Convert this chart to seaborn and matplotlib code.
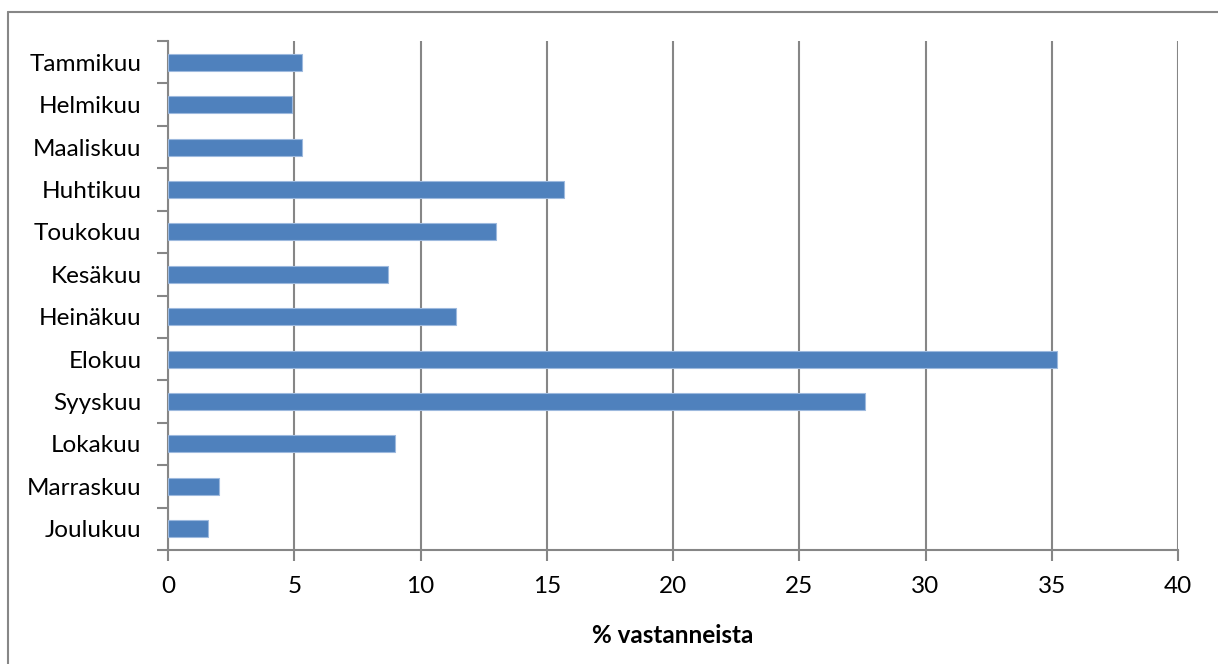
import matplotlib
matplotlib.use("Agg")
import matplotlib.pyplot as plt
from matplotlib.lines import Line2D
import seaborn as sns
import pandas as pd
import numpy as np

months = ["Tammikuu", "Helmikuu", "Maaliskuu", "Huhtikuu", "Toukokuu", "Kesäkuu",
          "Heinäkuu", "Elokuu", "Syyskuu", "Lokakuu", "Marraskuu", "Joulukuu"]
values = [5.3, 4.9, 5.3, 15.7, 13.0, 8.7, 11.4, 35.2, 27.6, 9.0, 2.0, 1.6]
xticks = [0, 5, 10, 15, 20, 25, 30, 35, 40]
xlabel = "% vastanneista"

sns.set_theme(style="white")
plt.rcParams['font.family'] = ['Lato', 'DejaVu Sans']

df = pd.DataFrame({"month": months, "value": values})

fig = plt.figure(figsize=(12.18, 6.64), dpi=100)
ax = fig.add_axes([168/1218, 1 - 550/664, (1178-168)/1218, (550-41)/664])

sns.barplot(data=df, x="value", y="month", order=months, orient="h",
            color="#4F81BD", saturation=1, width=0.4, ax=ax,
            edgecolor="#9DB9DE", linewidth=0.8, zorder=3)

FS = 17.5
ax.set_xlim(0, 40)
ax.set_ylim(len(months) - 0.5, -0.5)
ax.set_xticks(xticks)
ax.set_xticklabels([str(t) for t in xticks], fontsize=FS, color="black")
ax.set_yticks(range(len(months)))
ax.set_yticklabels(months, fontsize=FS, color="black")
ax.set_yticks(np.arange(-0.5, len(months), 1.0), minor=True)
ax.tick_params(axis="y", which="both", left=True)
ax.tick_params(axis="x", which="major", bottom=True)
ax.tick_params(axis="y", which="major", length=0, pad=19)
ax.tick_params(axis="y", which="minor", length=8, width=1.5, color="#868686", direction="out")
ax.tick_params(axis="x", which="major", length=8, width=1.5, color="#868686", direction="out", pad=11)

ax.grid(axis="x", color="#868686", linewidth=1.5, zorder=0)
ax.grid(axis="y", visible=False)
ax.set_axisbelow(True)

for s in ["top", "right"]:
    ax.spines[s].set_visible(False)
for s in ["left", "bottom"]:
    ax.spines[s].set_visible(True)
    ax.spines[s].set_color("#868686")
    ax.spines[s].set_linewidth(1.5)

ax.set_xlabel(xlabel, fontsize=FS, fontweight="bold", labelpad=19, color="black")
ax.set_ylabel("")

# outer chart border (left and top edges visible)
fig.add_artist(Line2D([8/1218, 8/1218], [0, 1 - 12/664], transform=fig.transFigure,
                      color="#878787", linewidth=1.5))
fig.add_artist(Line2D([8/1218, 1], [1 - 12/664, 1 - 12/664], transform=fig.transFigure,
                      color="#878787", linewidth=1.5))

fig.savefig("out.png", dpi=100)
